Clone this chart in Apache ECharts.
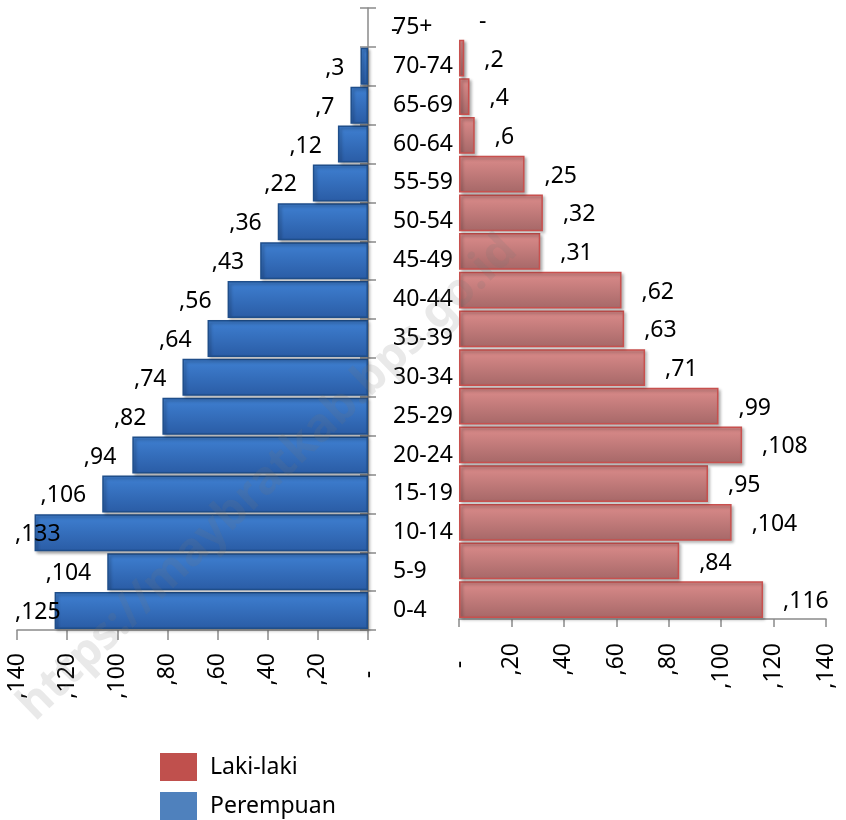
<!DOCTYPE html>
<html>
<head>
<meta charset="utf-8">
<script src="https://cdn.jsdelivr.net/npm/echarts@6/dist/echarts.min.js"></script>
<style>html,body{margin:0;padding:0;background:#fff;}#c{width:846px;height:820px;}</style>
</head>
<body>
<div id="c"></div>
<script>
const categories = ['0-4','5-9','10-14','15-19','20-24','25-29','30-34','35-39','40-44','45-49','50-54','55-59','60-64','65-69','70-74','75+'];
const perempuan = [125,104,133,106,94,82,74,64,56,43,36,22,12,7,3,0];
const lakiLaki = [116,84,104,95,108,99,71,63,62,31,32,25,6,4,2,0];
const axisMin = 0, axisMax = 140, axisStep = 20;
const seriesNames = ['Laki-laki','Perempuan'];
const watermark = 'https://maybratkab.bps.go.id';

const FONT = '"Noto Sans", "Open Sans", sans-serif';
const FS = 23;
const AXIS_COLOR = '#8a8a8a';
const fmt = v => v === 0 ? '-' : ',' + v;

const LG = {left: 17, right: 478, top: 8, bottom: 190};
const RG = {left: 459, right: 20, top: -2, bottom: 201};
const leftWidth = 846 - LG.left - LG.right;

const blueGrad = new echarts.graphic.LinearGradient(0,0,0,1,[{offset:0,color:'#3f80d2'},{offset:1,color:'#2a5ca5'}]);
const redGrad = new echarts.graphic.LinearGradient(0,0,0,1,[{offset:0,color:'#dc8c8b'},{offset:1,color:'#a66868'}]);
const zeroStyle = {color: 'rgba(0,0,0,0)', borderColor: 'rgba(0,0,0,0)', borderWidth: 0,
  shadowBlur: 0, shadowColor: 'rgba(0,0,0,0)', shadowOffsetX: 0, shadowOffsetY: 0};

const leftData = perempuan.map(v => {
  const item = {value: v};
  const barLeft = 846 - LG.right - v / axisMax * leftWidth;
  if (v === 0) {
    item.label = {position: 'right', distance: 23};
    item.itemStyle = zeroStyle;
  } else if (barLeft - 16 - 48 < LG.left - 3) {
    item.label = {position: 'insideLeft', distance: 0, offset: [(LG.left - 2) - barLeft, 2]};
  }
  return item;
});
const rightData = lakiLaki.map(v => v === 0 ? {value: v, itemStyle: zeroStyle} : {value: v});

const xLabel = (margin) => ({
  rotate: 90, margin: margin, fontSize: FS, fontFamily: FONT, color: '#000',
  formatter: v => v === 0 ? '-   ' : ',' + v
});

const option = {
  animation: false,
  backgroundColor: '#fff',
  grid: [
    {left: LG.left, right: LG.right, top: LG.top, bottom: LG.bottom},
    {left: RG.left, right: RG.right, top: RG.top, bottom: RG.bottom}
  ],
  xAxis: [
    {type: 'value', gridIndex: 0, inverse: true, min: axisMin, max: axisMax, interval: axisStep,
     splitLine: {show: false},
     axisLine: {show: true, lineStyle: {color: AXIS_COLOR, width: 1.5}},
     axisTick: {show: true, length: 10, lineStyle: {color: AXIS_COLOR, width: 1.5}},
     axisLabel: xLabel(23)},
    {type: 'value', gridIndex: 1, min: axisMin, max: axisMax, interval: axisStep,
     splitLine: {show: false},
     axisLine: {show: true, lineStyle: {color: AXIS_COLOR, width: 1.5}},
     axisTick: {show: true, length: 8, lineStyle: {color: AXIS_COLOR, width: 1.5}},
     axisLabel: xLabel(24)}
  ],
  yAxis: [
    {type: 'category', gridIndex: 0, data: categories, position: 'right',
     axisLine: {show: true, lineStyle: {color: AXIS_COLOR, width: 1.5}},
     axisTick: {show: true, length: 8, lineStyle: {color: AXIS_COLOR, width: 1.5}},
     axisLabel: {margin: 25, align: 'left', fontSize: FS, fontFamily: FONT, color: '#000'}},
    {type: 'category', gridIndex: 0, data: categories, position: 'right',
     axisLine: {show: false},
     axisTick: {show: true, inside: true, length: 8, lineStyle: {color: AXIS_COLOR, width: 1.5}},
     axisLabel: {show: false}},
    {type: 'category', gridIndex: 1, data: categories, show: false}
  ],
  legend: {
    orient: 'vertical', left: 160, top: 753, height: 70, padding: 0,
    itemWidth: 37, itemHeight: 28, itemGap: 11,
    icon: 'rect', selectedMode: false,
    textStyle: {fontSize: FS, fontFamily: FONT, color: '#000', padding: [0,0,0,8]},
    data: [
      {name: seriesNames[0], itemStyle: {color: '#c0504d', borderWidth: 0, shadowBlur: 0, shadowOffsetX: 0, shadowOffsetY: 0}},
      {name: seriesNames[1], itemStyle: {color: '#4f81bd', borderWidth: 0, shadowBlur: 0, shadowOffsetX: 0, shadowOffsetY: 0}}
    ]
  },
  series: [
    {name: seriesNames[0], type: 'bar', xAxisIndex: 1, yAxisIndex: 2, data: rightData,
     barCategoryGap: '5%',
     itemStyle: {color: redGrad, borderColor: '#c8504e', borderWidth: 1.5,
       shadowBlur: 3, shadowColor: 'rgba(0,0,0,0.3)', shadowOffsetX: 2, shadowOffsetY: 2},
     label: {show: true, position: 'right', distance: 20, offset: [0, 2], formatter: p => fmt(p.value),
       fontSize: FS, fontFamily: FONT, color: '#000'}},
    {name: seriesNames[1], type: 'bar', xAxisIndex: 0, yAxisIndex: 0, data: leftData,
     barCategoryGap: '5%',
     itemStyle: {color: blueGrad, borderColor: '#1f4e8a', borderWidth: 1.5,
       shadowBlur: 3, shadowColor: 'rgba(0,0,0,0.3)', shadowOffsetX: 2, shadowOffsetY: 2},
     label: {show: true, position: 'left', distance: 16, offset: [0, 2], formatter: p => fmt(p.value),
       fontSize: FS, fontFamily: FONT, color: '#000'}}
  ],
  graphic: [{
    type: 'text', x: 268, y: 478, rotation: 0.77, z: 100, silent: true,
    style: {text: watermark, font: 'bold 46px ' + FONT, fill: 'rgba(120,120,120,0.16)',
      align: 'center', verticalAlign: 'middle'}
  }]
};

const chart = echarts.init(document.getElementById('c'), null, {renderer: 'canvas'});
chart.setOption(option);
</script>
</body>
</html>
